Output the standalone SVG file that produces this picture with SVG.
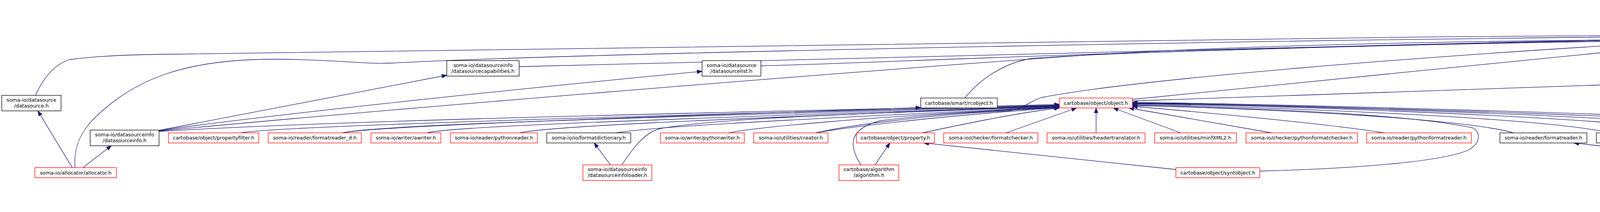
<svg xmlns="http://www.w3.org/2000/svg" width="6825" height="544" viewBox="0 0 6825 544">
<style>
.n rect{fill:#fff;stroke:#000;stroke-width:1.3}
.n.r rect{stroke:#ff0000}
.n.g rect{fill:#bfbfbf}
.n text{font-family:"DejaVu Sans","Liberation Sans",sans-serif;font-size:12.9px;text-anchor:middle;fill:#000}
#edges path{fill:none;stroke:#191970;stroke-width:1.3;marker-end:url(#arr)}
</style>
<defs>
<marker id="arr" markerUnits="userSpaceOnUse" markerWidth="14" markerHeight="11" refX="13" refY="5" orient="auto">
<path d="M0,0 L13,5 L0,10 z" fill="#191970" stroke="#191970" stroke-width="1"/>
</marker>
</defs>
<rect width="6825" height="544" fill="#fff"/>
<g id="edges">
<path d="M4494,81 L4494,31.3"/>
<path d="M91,244.6 C110,200 140,165 178,153 C260,142 350,140 446,139 C1500,118 3000,98 4407,89"/>
<path d="M192,430.2 C188,380 205,340 240,305 C340,205 470,152 700,152 C850,152 930,165 1000,162 C1400,140 3000,105 4407,92"/>
<path d="M407,336 C1100,270 2300,175 2800,140 C3300,110 4000,102 4407,101"/>
<path d="M1329,171 C1700,160 2400,135 4407,95"/>
<path d="M1947.8,169 C2300,160 2800,130 4407,98"/>
<path d="M2470,251.5 C2520,190 2590,155 2650,149 C3000,125 4000,106 4407,103"/>
<path d="M2899,255 L4407,104.5"/>
<path d="M2088,341 C2200,315 2450,290 2575,285 C2620,282 2630,262 2667,250 C2900,205 3600,145 4407,100"/>
<path d="M185,430.2 L97,284.6"/>
<path d="M212,430.2 L285,373.8"/>
<path d="M407,334.5 L1143.8,193"/>
<path d="M407,335.5 C600,305 1300,230 1797.3,183"/>
<path d="M407,337.5 C900,305 2200,282 2712,268"/>
<path d="M616,341 C700,325 1500,300 2712,270"/>
<path d="M877,341 C950,325 1500,305 2357.1,276"/>
<path d="M877,341 C950,322 1500,305 2712,271"/>
<path d="M1092,341 C1160,326 1500,312 2712,272"/>
<path d="M1329,341 C1400,326 1700,310 2712,273"/>
<path d="M1577,341 C1650,328 1900,312 2712,274"/>
<path d="M1865,341 C1930,328 2200,300 2712,275"/>
<path d="M2088,341 C2150,330 2350,302 2712,276"/>
<path d="M2361,341 C2450,322 2600,290 2712,277"/>
<path d="M2204,423.3 C2170,370 2175,330 2253,310 C2400,290 2600,282 2712,276"/>
<path d="M1592,423.3 C1620,380 1650,340 1690,330 C1850,300 2300,290 2712,271"/>
<path d="M2575,341 L2756,277"/>
<path d="M2806,341 L2806,277"/>
<path d="M3023,341 L2850,277"/>
<path d="M3256,341 L2890,277"/>
<path d="M3545,341 C3400,318 3050,285 2899,273"/>
<path d="M3875,341 C3750,305 3300,282 2899,270"/>
<path d="M4123,341 C3950,302 3300,276 2899,268"/>
<path d="M4311.6,334 C4050,298 3300,272 2899,266"/>
<path d="M4549,341 C4300,300 3300,270 2899,265"/>
<path d="M4773,341 C4550,305 3300,268 2899,264"/>
<path d="M4992,341 C4700,305 3300,266 2899,263"/>
<path d="M3225,439 C3500,432 3700,412 3759,385 C3790,368 3792,340 3770,328 C3600,292 3200,276 2899,271"/>
<path d="M2899,259 L5244.6,179"/>
<path d="M3010.3,435 L2365,366.8"/>
<path d="M2240,423.3 L2278,366.8"/>
<path d="M1563,423.3 L1521,366.8"/>
<path d="M4942.4,439 C4600,420 4300,398 4029,366.8"/>
<path d="M5057.6,430.2 L5057.6,366.8"/>
<path d="M5092,430.2 C5180,380 5220,320 5235,270 C5245,235 5265,210 5294,188.4"/>
<path d="M5030,341 L4529,106.5"/>
<path d="M5244.6,167 L4580.8,101"/>
<path d="M5477,162.4 C5400,145 5100,120 4580.8,97"/>
<path d="M5765,162.4 C5650,140 5300,112 4580.8,95"/>
<path d="M5997,162.4 C5900,145 5400,108 4580.8,94"/>
<path d="M6180,155.5 C6050,130 5400,102 4580.8,93"/>
<path d="M6354.4,155.5 C6200,125 5400,98 4580.8,92"/>
<path d="M6651,251.5 C6500,236 6100,228 5900,226 C5780,218 5720,205 5704,191 C5690,170 5670,158 5600,142 C5400,118 5000,105 4580.8,99"/>
<path d="M6640,251.5 C6400,225 6100,205 5906,188.4"/>
<path d="M5418.75,430.2 C5340,395 5305,330 5310,280 C5312,240 5316,215 5320,188.4"/>
<path d="M5668,522 C5450,500 5330,470 5300,410 C5280,360 5290,260 5314,188.4"/>
<path d="M5419,333.8 L5338,188.4"/>
<path d="M5575,341 C5500,320 5450,300 5430,280 C5400,245 5380,215 5360,188.4"/>
<path d="M5488,244.6 L5380,188.4"/>
<path d="M5691,251.5 C5600,230 5450,200 5398,188.4"/>
<path d="M5900,244.6 C5800,222 5500,200 5404,188.4"/>
<path d="M6124.5,251.5 C6000,225 5600,200 5408,188.4"/>
<path d="M6332,251.5 C6200,225 5700,200 5411,188"/>
<path d="M6348.2,343 C6450,322 6520,300 6516,270 C6512,250 6500,240 6470,238 C6200,225 5600,198 5414,186"/>
<path d="M5891.1,434 C6100,405 6400,365 6530,330 C6590,315 6575,280 6528,243 C6400,228 5700,198 5415.2,183"/>
<path d="M5504,333.8 L5695,277"/>
<path d="M5660,341 L5729,277"/>
<path d="M5588,430.2 C5680,405 5760,380 5766,340 C5770,310 5762,295 5758,277"/>
<path d="M5782,430.2 C5800,380 5795,320 5769,277"/>
<path d="M5834,512.5 C5880,490 5910,460 5906,440 C5900,400 5850,340 5782,277"/>
<path d="M6159.4,337 L5830,277"/>
<path d="M5521,430.2 L5615,366.8"/>
<path d="M5758,430.2 L5669,366.8"/>
<path d="M5778,512.5 L5778,456"/>
</g>
<g id="atomiccount" class="n g"><rect x="4380.4" y="6" width="226.6" height="25.3"/><text x="4493.7" y="23.3">cartobase/zoolib/atomiccount.h</text></g>
<g id="rcptr" class="n"><rect x="4407.1" y="81" width="173.7" height="25.5"/><text x="4494" y="98.3">cartobase/smart/rcptr.h</text></g>
<g id="datasourcecapabilities" class="n"><rect x="1143.8" y="155.5" width="185.2" height="39.8"/><text x="1236.4" y="171.5">soma-io/datasourceinfo</text><text x="1236.4" y="186.5">/datasourcecapabilities.h</text></g>
<g id="datasourcelist" class="n"><rect x="1797.3" y="155.5" width="150.5" height="39.8"/><text x="1872.5" y="171.5">soma-io/datasource</text><text x="1872.5" y="186.5">/datasourcelist.h</text></g>
<g id="types" class="n"><rect x="5244.6" y="162.4" width="170.6" height="26"/><text x="5329.9" y="179.7">cartobase/type/types.h</text></g>
<g id="mutexrcptr" class="n"><rect x="5439.7" y="162.4" width="214.8" height="26"/><text x="5547.1" y="179.7">cartobase/smart/mutexrcptr.h</text></g>
<g id="sharedptr" class="n"><rect x="5729.5" y="162.4" width="205.3" height="26"/><text x="5832.1" y="179.7">cartobase/smart/sharedptr.h</text></g>
<g id="weakptr" class="n r"><rect x="5959.8" y="162.4" width="196" height="26"/><text x="6057.8" y="179.7">cartobase/smart/weakptr.h</text></g>
<g id="chaindatasource" class="n r"><rect x="6179.5" y="155.5" width="150.9" height="39.8"/><text x="6255" y="171.5">soma-io/datasource</text><text x="6255" y="186.5">/chaindatasource.h</text></g>
<g id="streamdatasource" class="n r"><rect x="6354.4" y="155.5" width="156.1" height="39.8"/><text x="6432.5" y="171.5">soma-io/datasource</text><text x="6432.5" y="186.5">/streamdatasource.h</text></g>
<g id="datasource" class="n"><rect x="4.5" y="244.6" width="151.8" height="39.9"/><text x="80.4" y="260.6">soma-io/datasource</text><text x="80.4" y="275.6">/datasource.h</text></g>
<g id="rcobject" class="n"><rect x="2357.1" y="251.5" width="196" height="25.5"/><text x="2455.1" y="268.8">cartobase/smart/rcobject.h</text></g>
<g id="object" class="n r"><rect x="2712" y="251.5" width="187" height="25.5"/><text x="2805.5" y="268.8">cartobase/object/object.h</text></g>
<g id="voxelrgb_def" class="n r"><rect x="5443.3" y="244.6" width="180.4" height="39.9"/><text x="5533.5" y="260.6">cartobase/type/voxelrgb</text><text x="5533.5" y="275.6">_def.h</text></g>
<g id="voxelvalue" class="n r"><rect x="5647.3" y="251.5" width="207.2" height="25.5"/><text x="5750.9" y="268.8">cartobase/type/voxelvalue.h</text></g>
<g id="voxelrgba_def" class="n r"><rect x="5878.1" y="244.6" width="188.4" height="39.9"/><text x="5972.3" y="260.6">cartobase/type/voxelrgba</text><text x="5972.3" y="275.6">_def.h</text></g>
<g id="getopt" class="n r"><rect x="6091" y="251.5" width="179.1" height="25.5"/><text x="6180.6" y="268.8">soma-io/getopt/getopt.h</text></g>
<g id="converter" class="n r"><rect x="6294.6" y="251.5" width="196" height="25.5"/><text x="6392.6" y="268.8">cartobase/type/converter.h</text></g>
<g id="rcptrtrick" class="n"><rect x="6616.4" y="251.5" width="202.9" height="25.5"/><text x="6717.9" y="268.8">cartobase/smart/rcptrtrick.h</text></g>
<g id="datasourceinfo" class="n"><rect x="230.8" y="333.8" width="176.3" height="40.2"/><text x="319" y="349.8">soma-io/datasourceinfo</text><text x="319" y="364.8">/datasourceinfo.h</text></g>
<g id="propertyfilter" class="n r"><rect x="431.3" y="341" width="231.2" height="25.8"/><text x="546.9" y="358.3">cartobase/object/propertyfilter.h</text></g>
<g id="formatreader_d" class="n r"><rect x="686.6" y="341" width="238.4" height="25.8"/><text x="805.8" y="358.3">soma-io/reader/formatreader_d.h</text></g>
<g id="awriter" class="n r"><rect x="949.6" y="341" width="179" height="25.8"/><text x="1039.1" y="358.3">soma-io/writer/awriter.h</text></g>
<g id="pythonreader" class="n r"><rect x="1153.1" y="341" width="222.8" height="25.8"/><text x="1264.5" y="358.3">soma-io/reader/pythonreader.h</text></g>
<g id="formatdictionary" class="n"><rect x="1399.6" y="341" width="215.1" height="25.8"/><text x="1507.2" y="358.3">soma-io/io/formatdictionary.h</text></g>
<g id="pythonwriter" class="n r"><rect x="1690.6" y="341" width="214.8" height="25.8"/><text x="1798" y="358.3">soma-io/writer/pythonwriter.h</text></g>
<g id="creator" class="n r"><rect x="1929.5" y="341" width="190.1" height="25.8"/><text x="2024.6" y="358.3">soma-io/utilities/creator.h</text></g>
<g id="property" class="n r"><rect x="2192.4" y="341" width="199.6" height="25.8"/><text x="2292.2" y="358.3">cartobase/object/property.h</text></g>
<g id="formatchecker" class="n r"><rect x="2416" y="341" width="241" height="25.8"/><text x="2536.5" y="358.3">soma-io/checker/formatchecker.h</text></g>
<g id="headertranslator" class="n r"><rect x="2680.4" y="341" width="250.9" height="25.8"/><text x="2805.9" y="358.3">soma-io/utilities/headertranslator.h</text></g>
<g id="minfXML2" class="n r"><rect x="2955.8" y="341" width="209.4" height="25.8"/><text x="3060.5" y="358.3">soma-io/utilities/minfXML2.h</text></g>
<g id="pythonformatchecker" class="n r"><rect x="3189.7" y="341" width="285.7" height="25.8"/><text x="3332.6" y="358.3">soma-io/checker/pythonformatchecker.h</text></g>
<g id="pythonformatreader" class="n r"><rect x="3498.7" y="341" width="267.8" height="25.8"/><text x="3632.6" y="358.3">soma-io/reader/pythonformatreader.h</text></g>
<g id="formatreader" class="n"><rect x="3839.7" y="341" width="222.8" height="25.8"/><text x="3951.1" y="358.3">soma-io/reader/formatreader.h</text></g>
<g id="object_d" class="n"><rect x="4086.6" y="341" width="201.4" height="25.8"/><text x="4187.3" y="358.3">cartobase/object/object_d.h</text></g>
<g id="object_factory" class="n"><rect x="4311.6" y="333.8" width="175" height="40.2"/><text x="4399.1" y="349.8">cartobase/object/object</text><text x="4399.1" y="364.8">_factory.h</text></g>
<g id="achecker" class="n r"><rect x="4510.3" y="341" width="204.4" height="25.8"/><text x="4612.5" y="358.3">soma-io/checker/achecker.h</text></g>
<g id="areader" class="n r"><rect x="4739.3" y="341" width="186.6" height="25.8"/><text x="4832.6" y="358.3">soma-io/reader/areader.h</text></g>
<g id="formatwriter" class="n"><rect x="4950.4" y="341" width="214.8" height="25.8"/><text x="5057.8" y="358.3">soma-io/writer/formatwriter.h</text></g>
<g id="voxelrgb_decl" class="n r"><rect x="5342" y="333.8" width="180.3" height="40.2"/><text x="5432.2" y="349.8">cartobase/type/voxelrgb</text><text x="5432.2" y="364.8">_decl.h</text></g>
<g id="voxelhsv" class="n"><rect x="5546.4" y="341" width="193.3" height="25.8"/><text x="5643" y="358.3">cartobase/type/voxelhsv.h</text></g>
<g id="voxelrgba_decl" class="n r"><rect x="6159.4" y="333.8" width="188.8" height="40.2"/><text x="6253.8" y="349.8">cartobase/type/voxelrgba</text><text x="6253.8" y="364.8">_decl.h</text></g>
<g id="allocator" class="n r"><rect x="89.3" y="430.2" width="208.9" height="25.8"/><text x="193.8" y="447.5">soma-io/allocator/allocator.h</text></g>
<g id="datasourceinfoloader" class="n r"><rect x="1492.4" y="423.3" width="176.4" height="39.9"/><text x="1580.6" y="439.3">soma-io/datasourceinfo</text><text x="1580.6" y="454.3">/datasourceinfoloader.h</text></g>
<g id="algorithm" class="n r"><rect x="2147.8" y="423.3" width="153.1" height="39.9"/><text x="2224.4" y="439.3">cartobase/algorithm</text><text x="2224.4" y="454.3">/algorithm.h</text></g>
<g id="syntobject" class="n r"><rect x="3010.3" y="430.2" width="214.7" height="25.8"/><text x="3117.7" y="447.5">cartobase/object/syntobject.h</text></g>
<g id="formatdictionary_d" class="n r"><rect x="4942.4" y="430.2" width="230.8" height="25.8"/><text x="5057.8" y="447.5">soma-io/io/formatdictionary_d.h</text></g>
<g id="asciidatasourcetraits" class="n r"><rect x="5359.8" y="430.2" width="280.8" height="25.8"/><text x="5500.2" y="447.5">soma-io/utilities/asciidatasourcetraits.h</text></g>
<g id="datatypetraits" class="n"><rect x="5664.3" y="430.2" width="226.8" height="25.8"/><text x="5777.7" y="447.5">cartobase/type/datatypetraits.h</text></g>
<g id="datatypeinfo" class="n"><rect x="5668" y="512.5" width="219.5" height="25.7"/><text x="5777.8" y="529.8">cartobase/type/datatypeinfo.h</text></g>
</svg>
